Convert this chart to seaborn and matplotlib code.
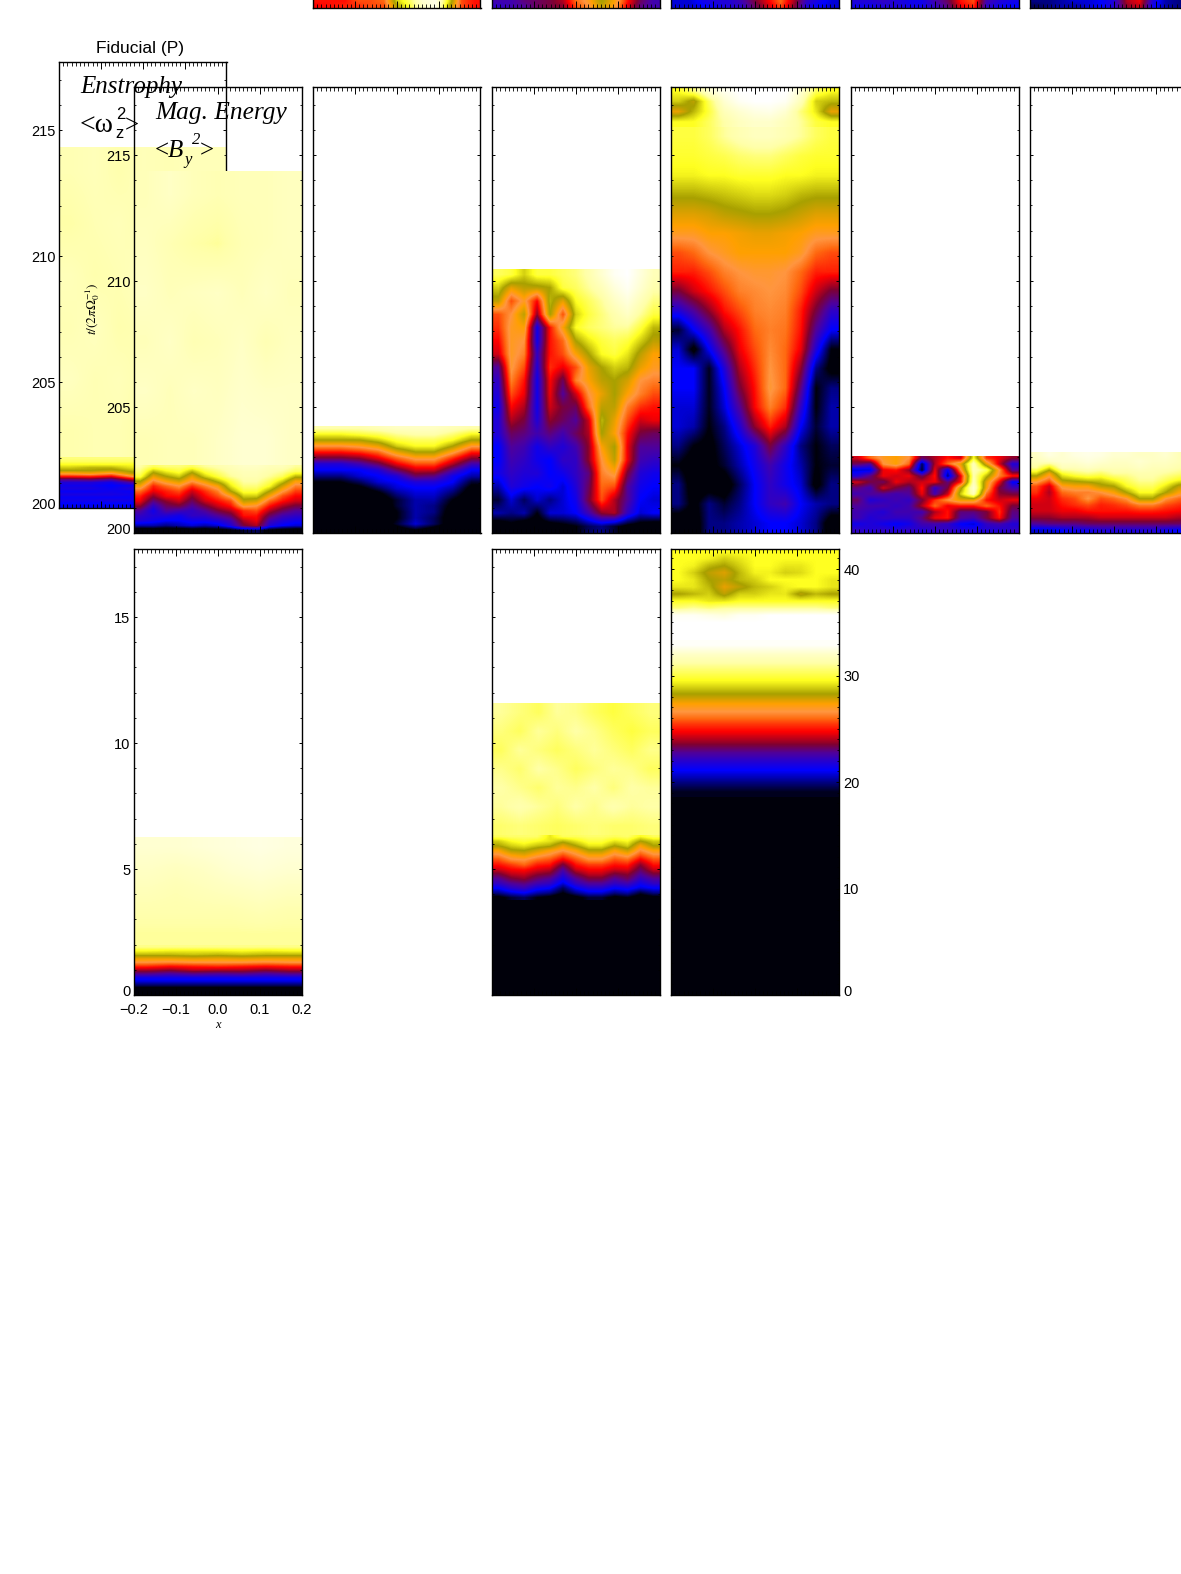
import numpy as np
import matplotlib
matplotlib.use('Agg')
import matplotlib.pyplot as plt
import seaborn as sns
from matplotlib.colors import LinearSegmentedColormap
from matplotlib.ticker import MultipleLocator
from matplotlib.transforms import ScaledTranslation

strip_c = [[46, 46, 46, 50, 50, 52, 72, 80, 92, 96, 74, 50, 46], [45, 46, 47, 48, 50, 50, 68, 78, 90, 96, 70, 50, 46]]
strip_d = [[28, 28, 32, 34, 36, 40, 52, 58, 68, 60, 46, 34, 28], [26, 28, 30, 34, 36, 38, 50, 56, 66, 58, 44, 32, 28]]
strip_e = [[18, 18, 22, 24, 24, 28, 36, 44, 52, 40, 26, 22, 18], [18, 18, 20, 22, 24, 26, 34, 42, 50, 38, 24, 20, 18]]
strip_f = [[24, 24, 26, 24, 22, 22, 28, 34, 46, 50, 28, 24, 22], [22, 22, 24, 24, 22, 22, 26, 32, 44, 48, 26, 22, 20]]
strip_g = [[14, 14, 16, 18, 18, 20, 24, 40, 44, 24, 16, 14, 14], [12, 14, 16, 16, 18, 20, 24, 38, 42, 22, 16, 14, 14]]

p_upper = [[87, 88, 86, 88, 87, 88, 88], [85, 87, 88, 86, 88, 87, 86], [88, 86, 87, 89, 87, 86, 87],
           [87, 89, 86, 87, 85, 87, 88], [89, 87, 88, 86, 88, 89, 87], [86, 87, 87, 85, 86, 86, 85]]
p_lower = [[82, 82, 82, 82, 82, 82, 82, 82], [80, 80, 80, 80, 80, 80, 80, 80], [76, 76, 76, 76, 76, 76, 76, 76],
           [72, 70, 70, 74, 72, 72, 72, 72], [68, 68, 66, 70, 68, 68, 68, 68], [58, 60, 56, 66, 60, 60, 60, 60],
           [46, 47, 44, 56, 48, 48, 48, 48], [32, 34, 30, 42, 34, 34, 34, 34], [24, 24, 22, 30, 24, 24, 24, 24],
           [22, 22, 20, 22, 22, 22, 22, 22], [23, 23, 21, 24, 23, 23, 23, 23], [21, 21, 22, 21, 21, 21, 21, 21],
           [23, 23, 23, 22, 23, 23, 23, 23], [21, 21, 21, 21, 21, 21, 21, 21], [22, 22, 23, 22, 22, 22, 22, 22],
           [20, 20, 20, 20, 20, 20, 20, 20], [19, 19, 19, 19, 19, 19, 19, 19]]

b_upper = [[88, 90, 88, 87, 88, 88, 89], [89, 87, 85, 84, 87, 88, 89], [90, 88, 89, 90, 88, 90, 88],
           [88, 90, 87, 88, 90, 87, 89], [90, 88, 90, 89, 91, 90, 90], [87, 88, 88, 90, 92, 92, 90]]
b_lower = [[85, 80, 82, 82, 80, 84, 86, 88, 90, 90, 88, 88, 84],
           [82, 70, 75, 78, 70, 78, 82, 86, 88, 88, 86, 84, 80],
           [78, 62, 68, 72, 62, 72, 78, 84, 87, 87, 84, 80, 70],
           [68, 54, 60, 64, 56, 62, 70, 78, 85, 85, 80, 72, 60],
           [60, 47, 52, 56, 48, 54, 60, 74, 82, 82, 76, 64, 54],
           [52, 44, 47, 50, 42, 48, 54, 68, 78, 78, 68, 57, 49],
           [47, 38, 45, 46, 38, 45, 50, 58, 72, 72, 60, 50, 45],
           [44, 32, 38, 42, 34, 42, 46, 50, 66, 64, 52, 46, 42],
           [38, 26, 34, 36, 30, 36, 42, 46, 58, 56, 46, 40, 36],
           [30, 22, 30, 28, 26, 30, 36, 40, 48, 50, 40, 34, 30],
           [26, 24, 24, 22, 26, 26, 30, 34, 46, 46, 34, 28, 26],
           [24, 22, 20, 20, 22, 22, 24, 28, 40, 44, 28, 24, 22],
           [16, 16, 14, 16, 18, 16, 18, 24, 36, 40, 24, 20, 18],
           [2, 3, 2, 2, 3, 3, 4, 6, 10, 12, 6, 4, 3]]

c_grid = [[86, 86, 86, 88, 90, 90, 90, 88, 86], [76, 76, 78, 80, 84, 86, 86, 82, 76],
          [68, 68, 68, 72, 78, 80, 80, 76, 68], [56, 56, 58, 62, 72, 76, 76, 68, 57],
          [46, 46, 48, 52, 62, 68, 68, 58, 47], [36, 36, 38, 44, 52, 58, 58, 48, 38],
          [24, 24, 28, 34, 44, 50, 50, 40, 28], [20, 20, 20, 24, 34, 42, 42, 30, 20],
          [14, 14, 18, 20, 24, 34, 32, 22, 16], [8, 8, 12, 18, 20, 24, 24, 20, 10],
          [4, 4, 6, 12, 18, 20, 20, 16, 6], [2, 2, 3, 6, 14, 18, 18, 12, 4],
          [1, 1, 1, 3, 10, 16, 16, 8, 3], [1, 1, 1, 2, 10, 16, 14, 6, 2],
          [0, 0, 1, 2, 8, 16, 14, 4, 1], [0, 0, 0, 2, 8, 16, 12, 4, 1],
          [0, 0, 0, 2, 10, 18, 12, 4, 1], [0, 0, 0, 0, 4, 8, 4, 1, 0]]

d_grid = [[80, 78, 72, 78, 78, 80, 82, 86, 92, 98, 100, 94, 88],
          [72, 62, 66, 66, 68, 78, 80, 84, 88, 94, 98, 92, 86],
          [66, 50, 58, 45, 70, 62, 76, 80, 84, 90, 94, 88, 82],
          [50, 56, 66, 38, 68, 50, 72, 78, 82, 86, 90, 84, 78],
          [48, 58, 60, 22, 46, 60, 76, 80, 82, 84, 84, 78, 70],
          [45, 58, 56, 22, 46, 52, 68, 74, 78, 80, 78, 72, 66],
          [42, 58, 54, 26, 46, 50, 60, 68, 76, 78, 74, 66, 60],
          [30, 57, 50, 24, 48, 44, 50, 62, 68, 72, 70, 62, 58],
          [26, 54, 46, 22, 45, 34, 54, 60, 66, 68, 64, 56, 54],
          [24, 50, 44, 22, 44, 30, 42, 56, 62, 68, 60, 54, 50],
          [22, 45, 40, 22, 42, 36, 34, 52, 66, 66, 54, 48, 46],
          [24, 40, 36, 24, 38, 34, 30, 42, 70, 62, 50, 42, 44],
          [24, 34, 32, 28, 32, 28, 34, 40, 68, 60, 46, 36, 34],
          [20, 30, 28, 22, 26, 24, 28, 38, 60, 68, 44, 30, 30],
          [20, 28, 26, 22, 20, 26, 26, 38, 56, 66, 44, 28, 26],
          [22, 26, 24, 24, 20, 22, 26, 32, 54, 58, 36, 24, 22],
          [16, 24, 22, 20, 22, 18, 24, 34, 52, 50, 30, 22, 20],
          [10, 18, 12, 18, 14, 18, 22, 36, 50, 40, 30, 20, 18],
          [16, 14, 16, 8, 18, 18, 20, 28, 38, 40, 26, 18, 20],
          [2, 6, 2, 4, 4, 6, 8, 12, 14, 10, 6, 4, 2]]

e_top = [[76, 82, 92, 97, 100, 100, 100, 100, 92, 80, 76],
         [72, 66, 80, 92, 98, 100, 100, 98, 88, 72, 70],
         [62, 70, 78, 88, 92, 95, 96, 92, 82, 74, 62],
         [76, 76, 80, 85, 89, 91, 91, 88, 84, 78, 76]]
e_main = [[78, 78, 80, 84, 87, 89, 89, 87, 84, 80, 78],
          [77, 77, 78, 79, 81, 82, 82, 80, 78, 77, 77],
          [75, 75, 76, 76, 77, 77, 77, 76, 76, 75, 75],
          [69, 69, 70, 71, 72, 73, 73, 72, 70, 69, 69],
          [63, 63, 64, 66, 67, 68, 68, 67, 65, 63, 63],
          [58, 58, 60, 60, 61, 62, 62, 61, 60, 58, 58],
          [50, 52, 56, 58, 60, 60, 60, 60, 58, 52, 50],
          [47, 47, 50, 54, 56, 57, 57, 56, 52, 47, 47],
          [36, 42, 46, 50, 54, 55, 56, 55, 50, 42, 36],
          [24, 30, 38, 46, 50, 54, 55, 54, 47, 36, 26],
          [10, 20, 28, 40, 46, 52, 54, 53, 46, 30, 20],
          [18, 6, 20, 32, 44, 50, 55, 52, 44, 24, 8],
          [20, 20, 9, 24, 40, 48, 56, 52, 38, 14, 6],
          [20, 20, 9, 20, 36, 46, 57, 52, 32, 8, 14],
          [18, 18, 9, 18, 30, 45, 54, 48, 26, 8, 16],
          [18, 16, 8, 14, 24, 38, 47, 40, 20, 10, 16],
          [14, 8, 6, 12, 18, 24, 36, 26, 14, 8, 12],
          [8, 4, 6, 10, 16, 22, 28, 22, 16, 8, 10],
          [14, 4, 4, 4, 12, 20, 26, 22, 18, 6, 14],
          [14, 6, 14, 10, 14, 20, 26, 28, 20, 16, 14],
          [2, 4, 14, 14, 16, 18, 20, 20, 18, 14, 4]]

f_grid = [[42, 52, 58, 60, 56, 34, 40, 46, 42, 76, 48, 44, 38],
          [34, 30, 56, 60, 52, 12, 40, 52, 62, 88, 62, 42, 24],
          [18, 18, 44, 46, 38, 10, 44, 20, 56, 88, 80, 56, 30],
          [24, 32, 44, 42, 44, 34, 46, 14, 44, 86, 70, 54, 46],
          [42, 36, 34, 44, 40, 42, 44, 32, 46, 88, 62, 44, 20],
          [32, 28, 42, 36, 32, 46, 26, 36, 66, 92, 60, 36, 28],
          [28, 30, 30, 28, 30, 44, 28, 42, 72, 88, 52, 38, 36],
          [34, 24, 26, 28, 26, 36, 48, 56, 62, 62, 46, 42, 44],
          [30, 28, 28, 26, 28, 40, 52, 44, 46, 46, 52, 46, 36],
          [28, 26, 24, 28, 28, 28, 40, 46, 32, 32, 36, 48, 32],
          [28, 24, 26, 26, 26, 32, 44, 46, 30, 28, 36, 46, 30],
          [22, 24, 22, 20, 22, 28, 28, 26, 20, 18, 26, 28, 24],
          [26, 24, 26, 24, 26, 24, 26, 26, 24, 24, 24, 24, 26]]

g_grid = [[90, 95, 92, 95, 96, 95, 92, 92, 90, 90, 92, 88, 86],
          [88, 90, 92, 92, 94, 92, 90, 90, 92, 90, 90, 88, 86],
          [84, 74, 88, 88, 90, 88, 88, 88, 90, 88, 88, 86, 84],
          [72, 60, 76, 80, 82, 80, 84, 84, 86, 86, 84, 82, 80],
          [60, 52, 68, 70, 72, 72, 76, 80, 84, 84, 80, 76, 74],
          [50, 42, 58, 60, 60, 66, 68, 76, 80, 80, 74, 66, 64],
          [48, 40, 52, 54, 54, 56, 60, 68, 76, 76, 68, 60, 56],
          [44, 42, 48, 50, 56, 50, 52, 56, 68, 68, 56, 52, 50],
          [42, 42, 46, 48, 50, 47, 48, 50, 54, 54, 50, 48, 46],
          [42, 42, 44, 44, 46, 46, 46, 46, 47, 47, 46, 45, 44],
          [38, 38, 40, 40, 40, 42, 42, 42, 42, 42, 42, 40, 40],
          [30, 32, 32, 32, 34, 34, 34, 34, 34, 34, 34, 34, 32],
          [18, 18, 20, 22, 22, 24, 24, 24, 24, 24, 22, 20, 20]]

b2_upper = [[92, 92, 93, 94, 95, 94], [90, 89, 90, 92, 93, 92], [88, 87, 88, 89, 90, 89],
            [86, 86, 86, 86, 87, 86], [84, 84, 84, 84, 84, 84]]
b2_lower = [[83, 83, 83, 83, 83, 83, 83], [76, 75, 75, 75, 76, 75, 76], [70, 70, 71, 70, 71, 70, 70],
            [62, 62, 63, 62, 63, 62, 62], [56, 55, 56, 56, 56, 55, 56], [48, 46, 47, 48, 47, 46, 47],
            [40, 38, 41, 40, 40, 38, 40], [31, 29, 31, 30, 31, 29, 31], [22, 22, 22, 22, 22, 22, 22],
            [18, 18, 18, 18, 18, 18, 18], [12, 12, 12, 12, 12, 12, 12], [5, 5, 5, 5, 5, 5, 5], [1, 1, 1, 1, 1, 1, 1]]

d2_upper = [[84, 82, 80, 84, 83, 80, 78, 80, 82], [82, 80, 84, 82, 85, 83, 80, 78, 80],
            [80, 84, 82, 80, 82, 84, 82, 80, 83], [83, 81, 85, 83, 80, 82, 84, 83, 80],
            [85, 83, 81, 84, 83, 85, 82, 85, 84], [84, 86, 84, 82, 85, 83, 86, 84, 85],
            [81, 82, 81, 80, 81, 82, 81, 81, 82]]
d2_lower = [[80, 81, 81, 81, 74, 80, 80, 81, 81, 80, 81, 76, 80],
            [72, 76, 78, 76, 74, 70, 74, 78, 78, 74, 76, 68, 72],
            [68, 72, 74, 71, 69, 62, 68, 74, 74, 68, 72, 60, 68],
            [60, 67, 68, 64, 60, 56, 60, 67, 67, 60, 65, 55, 60],
            [55, 60, 62, 58, 55, 50, 55, 60, 60, 55, 58, 50, 55],
            [50, 55, 56, 52, 50, 44, 50, 55, 55, 50, 52, 44, 50],
            [46, 49, 52, 47, 46, 36, 46, 49, 49, 46, 47, 38, 46],
            [42, 45, 46, 43, 41, 30, 42, 45, 45, 42, 43, 34, 42],
            [36, 41, 42, 38, 36, 26, 36, 41, 41, 36, 38, 30, 36],
            [30, 36, 38, 33, 30, 22, 30, 36, 36, 30, 34, 26, 30],
            [26, 30, 32, 28, 26, 18, 26, 30, 30, 26, 28, 22, 26],
            [20, 25, 27, 22, 20, 12, 20, 24, 24, 20, 22, 18, 20],
            [14, 18, 20, 16, 14, 8, 14, 18, 18, 14, 16, 10, 14],
            [6, 10, 12, 8, 6, 2, 6, 10, 10, 6, 8, 4, 6]]
d2_black = [[0, 0], [0, 0]]

e2_top = [[76, 76, 76, 76, 76, 76, 76, 76, 76, 76, 76],
          [76, 76, 75, 72, 74, 76, 76, 76, 76, 76, 76],
          [76, 75, 70, 68, 72, 76, 76, 74, 74, 76, 76],
          [76, 72, 66, 63, 70, 75, 75, 72, 73, 76, 76],
          [76, 74, 68, 66, 70, 72, 76, 76, 76, 76, 74],
          [74, 74, 70, 62, 66, 70, 72, 75, 76, 76, 74],
          [68, 70, 72, 66, 72, 72, 74, 74, 66, 70, 68],
          [76, 76, 74, 74, 76, 76, 76, 76, 76, 76, 76],
          [82, 84, 82, 84, 84, 84, 84, 84, 84, 84, 82],
          [98, 98, 96, 94, 98, 98, 100, 100, 100, 100, 100],
          [100, 100, 100, 100, 100, 100, 100, 100, 100, 100, 100],
          [100, 100, 100, 100, 100, 100, 100, 100, 100, 100, 100],
          [100, 100, 100, 100, 100, 100, 100, 100, 100, 100, 100]]
e2_front = [[99, 99], [90, 90], [84, 84], [79, 79], [74, 74], [68, 68], [60, 60], [55, 55],
            [49, 49], [44, 44], [38, 38], [30, 30], [24, 24], [19, 19], [14, 14], [9, 9]]
e2_black = [[5, 5], [0, 0], [0, 0]]

# colormap stops
cmap_stops = [0, 8, 20, 30, 37, 45, 52, 56, 60, 68, 76, 85, 100]
cmap_colors = ['#00000a', '#00000a', '#0000ff', '#50009a', '#800030', '#ff0000', '#ff6a10',
               '#ff9640', '#ffa000', '#a8a000', '#ffff20', '#ffffa8', '#ffffff']

y_ticks_row2 = [200, 205, 210, 215]
y_ticks_row3 = [0, 5, 10, 15]
y_ticks_e2 = [0, 10, 20, 30, 40]
x_ticks = [-0.2, -0.1, 0.0, 0.1, 0.2]

sns.set_style('ticks')
plt.rcParams['font.family'] = ['Liberation Sans', 'DejaVu Sans']
plt.rcParams['mathtext.fontset'] = 'stix'
plt.rcParams['text.color'] = 'black'
plt.rcParams['xtick.color'] = 'black'
plt.rcParams['ytick.color'] = 'black'

W, H = 1181, 1574
PANEL_W, PANEL_H = 167.5, 446
fig = plt.figure(figsize=(W / 100, H / 100), dpi=100)
fire = LinearSegmentedColormap.from_list('fire', [(s / 100, c) for s, c in zip(cmap_stops, cmap_colors)], N=512)


def panel(left, top, ymin, ymax, major=5, labels=None, side='left'):
    ax = fig.add_axes([left / W, 1 - (top + PANEL_H) / H, PANEL_W / W, PANEL_H / H])
    ax.patch.set_alpha(0)
    ax.set_axisbelow(False)
    ax.set_xlim(-0.2, 0.2)
    ax.set_ylim(ymin, ymax)
    ax.xaxis.set_major_locator(MultipleLocator(0.1))
    ax.xaxis.set_minor_locator(MultipleLocator(0.01))
    ax.yaxis.set_major_locator(MultipleLocator(major))
    ax.yaxis.set_minor_locator(MultipleLocator(1))
    ax.tick_params(axis='x', which='major', direction='in', top=True, bottom=True, length=5, width=0.7, labelbottom=False)
    ax.tick_params(axis='x', which='minor', direction='in', top=True, bottom=True, length=2.8, width=0.6)
    ax.tick_params(axis='y', which='major', direction='in', left=True, right=True, length=2.4, width=0.7,
                   labelleft=False, labelsize=10.5, pad=2.5)
    ax.tick_params(axis='y', which='minor', direction='in', left=True, right=True, length=1.5, width=0.6)
    for s in ax.spines.values():
        s.set_linewidth(1.0)
        s.set_color('black')
    if labels is not None:
        ax.set_yticks(labels)
        ax.set_yticklabels([str(v) for v in labels])
        if side == 'right':
            ax.tick_params(axis='y', which='major', labelleft=False, labelright=True, pad=3.5)
            first = ax.yaxis.get_major_ticks()[0].label2
        else:
            ax.tick_params(axis='y', which='major', labelleft=True)
            first = ax.yaxis.get_major_ticks()[0].label1
        # bottom label sits a little above its tick
        first.set_transform(first.get_transform() + ScaledTranslation(0, 0.05, fig.dpi_scale_trans))
    return ax


def zone(ax, grid, t_lo, t_hi):
    ymin, ymax = ax.get_ylim()
    span = ymax - ymin
    inner = ax.inset_axes([0, (t_lo - ymin) / span, 1, (t_hi - t_lo) / span], zorder=1)
    values = np.array(grid, dtype=float)
    sns.heatmap(values, ax=inner, cmap=fire, vmin=0, vmax=100, cbar=False, xticklabels=False, yticklabels=False)
    # smooth the cells the way the original image was rendered
    inner.imshow(values, cmap=fire, vmin=0, vmax=100, aspect='auto', interpolation='bilinear',
                 interpolation_stage='data', extent=(0, values.shape[1], values.shape[0], 0), zorder=2)
    inner.axis('off')


# top row, only the bottom edge is on the page
strip_top = 8 - PANEL_H
for left, grid in zip([313, 492, 671, 851, 1030], [strip_c, strip_d, strip_e, strip_f, strip_g]):
    ax = panel(left, strip_top, 0, 17.7)
    zone(ax, grid, 0, 0.34)

# fiducial panel sits behind the next one
ax = panel(59, 62, 200, 217.7, labels=y_ticks_row2)
zone(ax, p_upper, 202.02, 214.33)
zone(ax, p_lower, 200, 202.02)

ax = panel(134, 87, 200, 217.7, labels=y_ticks_row2)
zone(ax, b_upper, 202.7, 214.37)
zone(ax, b_lower, 200, 202.7)

ax = panel(313, 87, 200, 217.7)
zone(ax, c_grid, 200, 204.25)

ax = panel(492, 87, 200, 217.7)
zone(ax, d_grid, 200, 210.48)

ax = panel(671, 87, 200, 217.7)
zone(ax, e_top, 216.11, 217.7)
zone(ax, e_main, 200, 216.11)

ax = panel(851, 87, 200, 217.7)
zone(ax, f_grid, 200, 203.07)

ax = panel(1030, 87, 200, 217.7)
zone(ax, g_grid, 200, 203.2)

# bottom row
ax = panel(134, 549, 0, 17.7, labels=y_ticks_row3)
zone(ax, b2_upper, 1.98, 6.27)
zone(ax, b2_lower, 0, 1.98)
ax.set_xticks(x_ticks)
ax.set_xticklabels(['\u22120.2', '\u22120.1', '0.0', '0.1', '0.2'])
ax.tick_params(axis='x', which='major', labelbottom=True, labelsize=10.5, pad=5.5)

ax = panel(492, 549, 0, 17.7)
zone(ax, d2_upper, 6.35, 11.58)
zone(ax, d2_lower, 3.77, 6.35)
zone(ax, d2_black, 0, 3.77)

ax = panel(671, 549, 0, 41.88, major=10, labels=y_ticks_e2, side='right')
zone(ax, e2_top, 33.33, 41.88)
zone(ax, e2_front, 18.59, 33.33)
zone(ax, e2_black, 0, 18.59)


def txt(x, y, s, **kw):
    fig.text(x / W, 1 - y / H, s, **kw)


serif = ['Liberation Serif', 'DejaVu Serif']
txt(140, 48.5, 'Fiducial (P)', fontsize=12.5, ha='center', va='center')
txt(80.5, 93, 'Enstrophy', family=serif, style='italic', fontsize=18)
txt(80, 132, '<\u03c9', family=serif, fontsize=20)
txt(116, 119, '2', fontsize=12)
txt(115, 138, 'z', fontsize=12)
txt(125, 132, '>', family=serif, fontsize=18)
txt(155, 119, 'Mag. Energy', family=serif, style='italic', fontsize=18.3)
txt(155, 157, '<', family=serif, fontsize=18)
txt(168, 157, 'B', family=serif, style='italic', fontsize=18)
txt(192, 144, '2', family=serif, style='italic', fontsize=12)
txt(184, 164, 'y', family=serif, style='italic', fontsize=12)
txt(200, 157, '>', family=serif, fontsize=18)
txt(92.5, 309, r'$t/(2\pi\Omega_0^{-1})$', fontsize=9.5, rotation=90, ha='center', va='center')
txt(217.5, 1025, 'x', family=serif, style='italic', fontsize=9, ha='center', va='center')

fig.savefig('out.png', dpi=100)
